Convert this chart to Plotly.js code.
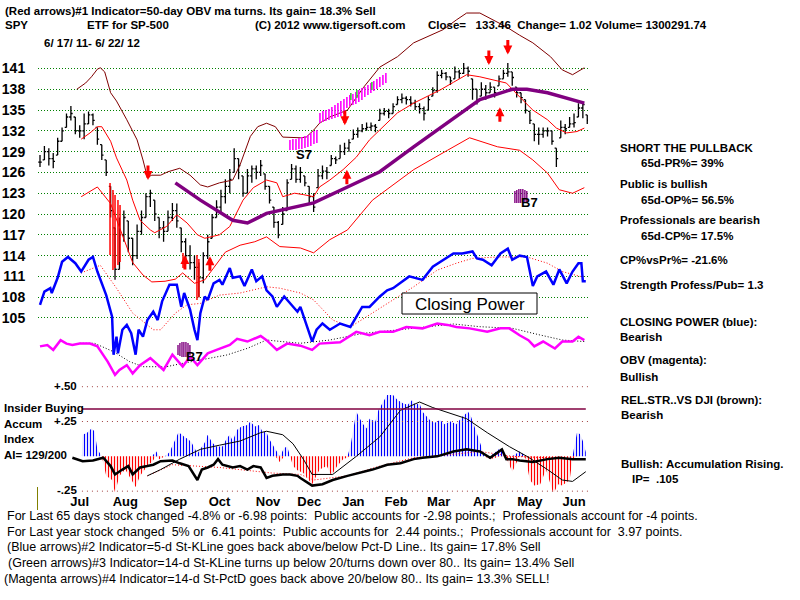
<!DOCTYPE html>
<html><head><meta charset="utf-8">
<script src="https://cdn.plot.ly/plotly-3.0.1.min.js"></script>
<style>html,body{margin:0;padding:0;background:#fff}#chart{width:800px;height:600px}</style>
</head><body><div id="chart"></div>
<script>
// ---------- DATA (x = calendar days since 2011-06-17) ----------
const months = ["Jul","Aug","Sep","Oct","Nov","Dec","Jan","Feb","Mar","Apr","May","Jun"];
const monthDays = [27,58,92,122,155,183,213,242,271,302,333,363];
const priceTicks = [105,108,111,114,117,120,123,126,129,132,135,138,141];

const closes = [127.5,129,128,127.6,130.5,132,134,134.5,132,132,
133,134.3,133.5,130.8,128.5,126,120.5,112,117,119.5,
116.5,114,117.5,119.5,122.5,123,120,118,117.5,119.5,
120.5,119,116,114,113,112.3,110.8,114,116,119.5,
121,122.5,124,125,128,127,123,125.5,126.5,126,
127,124,122,118.8,117,120,124.5,126.5,125,126,
124.5,122.5,121,125.5,126.2,126,128,127.8,129,129.5,
130.3,131.5,132,132.3,132.5,132.7,132.5,134.5,134.8,134.5,
135.5,136.5,136.7,136.5,136,135.5,135.2,134.5,136.5,137.8,
140,140.3,139.8,139.2,140.5,140.3,141,140.6,138,136.5,
138,137.5,138.3,137.5,139.5,140.3,140.5,139.7,137.5,136.8,
135,133.5,131.5,131.5,132,132,130.5,128,132.5,132.3,
133,133.2,135.3,135.8,133.5];
const highs = [128.5,129.8,129.5,128.8,131,132.5,134.5,135.6,134,132.8,
134.5,134.8,134.5,132.5,130,127.8,124,118,119.5,120.5,
119,116.5,118.5,120.5,123,123.5,122,119.5,119,120.5,
121.6,121.5,118,116.5,115.5,114,113,114.5,117,120,
122,123.5,125,126.5,129.5,128,125.5,126.5,127,127,
127.8,125.8,124,121,119,121,125,127.2,127,126.8,
125.5,124,123,126.5,127,126.8,128.5,128.3,130,130.3,
130.8,132.2,132.5,133,133.2,133.2,133,135.2,135.3,135.2,
136,137,137.4,137,137,136.5,136,135.5,137,138.3,
140.6,140.8,140.5,139.8,141.3,140.8,141.8,141.3,139.5,138,
139,138.6,139,138.3,140,140.8,141.8,140.5,138.3,137.5,
136.5,134.8,133,132.5,132.5,132.5,132,129.5,133.5,133,
134,134.5,136,136.2,134.3];
const lows = [126.8,127.8,127,126.6,128.5,130.5,132.5,133.5,131.5,131,
130.8,133,132.8,130,127.8,125.5,119.5,110.5,112,116,
114.5,112.6,113.5,117,119.5,121,119,116.5,116,117.5,
119,118,114.5,113,112,110.5,108,110,113.5,116.5,
119.5,120,121.5,123,126,125,122.5,123,124.5,125,
125.5,123.5,121.5,118,116.5,118.5,120.5,125,124.5,124.5,
124,121.5,120.3,123.8,125,125,127,127.2,128,128.5,
129,130.8,131,131.8,132,132,131.8,133.5,134.2,133.8,
134.5,135.8,136,135.8,135.5,135,134.5,133.5,135,137,
137.5,139.6,139.3,138.6,139.5,139.5,140.2,139.8,136.5,135.8,
137,136.5,137.5,136.8,138.5,139.5,139.8,138.5,136.8,136,
134.5,133,130.5,130,131,131.2,130,126.8,131,131.5,
132.5,132.5,134,133.8,133];

const cpDays = [0,3,7,8,12,15,19,24,28,33,36,39,45,49,50,52,53,56,59,62,65,67,70,73,77,80,83,88,93,96,98,102,105,107,109,112,114,118,122,124,129,131,136,139,144,147,151,154,158,161,166,170,175,177,180,185,188,192,197,204,211,215,219,224,231,236,240,251,260,267,274,281,287,294,297,301,307,313,318,321,326,331,335,338,344,349,353,358,362,366,368,369,371];
const cpVals = [106.9,108.8,109.3,108.6,110.8,113.1,113.8,112.9,111.7,113.4,113.8,111.7,108.3,105.2,99.7,102.3,99.9,103.3,104,102.8,99.7,103.3,102.3,104.7,105.9,104.7,107.4,109.8,109.8,106.6,108.6,106.2,103.3,101.8,105.7,108.1,107.6,110,110.5,109.8,112.2,110.8,111,109.6,112,110.3,111,109,108.1,106.6,108.1,107.1,105.9,106.6,104.7,101.6,103.3,104.2,103.3,104.2,103.7,105.2,106.6,106.6,108.1,109,109.3,111,110.5,112.4,113.4,114.3,114.3,114.6,113.6,113.4,112.6,114.3,115,113.4,114,113.8,109.6,111,111.7,109.8,112,110,111.7,112.9,112.9,110.3,110.3];

const obvDays = [0,5,9,14,18,22,27,34,39,46,51,54,59,63,68,75,84,90,97,102,107,114,120,129,134,141,150,154,161,168,177,185,190,204,215,224,231,240,249,260,270,277,283,292,304,313,319,326,332,336,342,350,355,362,366,370];
const obvVals = [100.9,101.1,100.4,101.8,101.3,101.1,101.3,101.3,100.9,98.7,96.8,97.5,98.2,97,98.2,99.2,97.5,99.7,98,99.4,98.2,99.9,100.4,101.1,102,101.6,102.4,101.8,100.4,101.3,101,100.4,101.3,101.5,103,102.5,103,103,103.7,103.5,104.2,104,103.7,103.5,103,103.5,103.5,102.5,101.8,100.9,101.6,100.6,101.6,101.6,102.3,101.8];

const cpMaDays = [28,41,52,63,77,82,92,100,109,122,136,154,163,177,186,199,211,222,236,254,270,283,294,311,331,345,355,367,371];
const cpMaVals = [111.5,112.6,109.3,105.7,103.3,103.3,105.7,106.9,107.1,108.3,108.6,109.5,109.3,108.6,107.6,104.7,103.7,105.2,107.1,109.5,111.9,112.9,113.6,113.8,113.8,112.9,111.7,111,111];

const obvMaDays = [27,37,50,61,70,86,97,109,127,141,154,165,177,197,220,243,265,281,299,321,340,355,371];
const obvMaVals = [101.35,101.35,100.13,98.69,97.97,97.97,98.46,98.94,99.66,100.62,101.82,101.58,101.35,101.82,102.79,103.27,103.74,104.13,103.74,103.51,102.54,101.82,101.58];

const rsDays = [25,31,35,39,41,44,48,52,59,66,70,73,76,82,87,95,102,109,114,122,131,136,143,148,154,160,165,177,181,186,190,197,209,220,231,243,254,263,274,283,290,299,308,317,326,335,347,355,362,370];
const rsVals = [138,138.9,139.8,140.9,141.1,140.5,137.5,136.3,133.6,130.7,127.8,125.3,125.6,125.6,126.1,126.6,125.6,124.2,123.9,124.5,124.9,127.1,131.2,132.6,133.1,132.6,131.1,131,131.1,132.1,133.1,134,135,138.3,141.2,142.7,144.7,145.6,146.6,148,149,149,148,147,145.8,144.7,142.7,140.8,140.1,141.1];

const maDays = [28,34,39,42,48,52,59,63,68,75,78,86,93,100,107,112,122,129,138,145,154,161,165,173,179,186,190,197,206,215,224,233,243,254,263,272,281,290,299,308,317,326,335,345,351,358,365,370];
const maVals = [130.8,131.7,132.6,132.6,130.5,128.1,124.9,122,119.1,117.7,117.3,118.2,119.9,118.7,117,116.5,117,118.2,122,123.8,124.9,124.5,122.5,123,122.8,122.5,123.9,124.9,126.4,128.2,130.7,132.6,134.6,136,136.9,137.9,139,140.1,139.8,139.3,138.9,136.9,135,133.6,132.4,131.7,131.9,132.4];

const lowBandDays = [28,39,48,54,63,70,76,85,92,97,105,112,119,126,136,146,154,163,177,186,197,209,226,254,277,292,311,326,335,345,353,362,370];
const lowBandVals = [122.5,123.9,121.5,118,113,111.2,110.2,110.3,110.6,111.5,110,110.5,112.5,114.5,115.5,116,116.7,115.3,115.1,114.4,116.3,117.7,122,126.4,129.2,131,129.7,129.2,127.8,125.9,123.5,123,123.8];

const ma50Days = [92,109,131,141,154,165,177,186,209,231,254,277,299,321,331,345,367,370];
const ma50Vals = [124.5,122,119.1,118.7,120.1,120.6,121.1,121.6,123.9,126.1,129.7,133.1,136.5,138,138,137.5,136.2,136];

const acDays = [28.5,29,32,35,37,39,42,45,49,51,54,58,62,65,68,73,76,79,81,85,88,92,94,96,98,101,103,107,109,112,114,117,120,124,127,129,131,134,137,141,143,146,149,151,154,156,160,163,166,168,170,172,175,179,183,185,190,195,198,202,206,209,211,213,215,219,222,224,228,230,233,236,240,243,247,250,253,255,258,260,265,268,272,275,279,283,287,291,293,297,300,302,306,313,317,321,326,330,333,336,340,344,349,352,355,360,362,365,367,369,371];
const acVals = [0,0.155,0.17,0.2,0.18,0.05,0,-0.14,-0.17,-0.26,-0.14,-0.095,-0.17,-0.22,-0.14,-0.07,-0.04,0.035,-0.02,0,0.03,0.12,0.17,0.16,0.14,0.12,0.1,0.02,0.05,0.1,0.155,0.1,0.07,0.07,0.13,0.155,0.11,0.19,0.215,0.225,0.25,0.215,0.225,0.18,0.17,0.12,0.05,-0.04,0.06,0.07,0,-0.07,-0.1,-0.12,-0.17,-0.2,-0.095,-0.07,-0.14,-0.07,-0.02,-0.01,0.07,0.21,0.32,0.24,0.2,0.27,0.25,0.33,0.39,0.44,0.44,0.405,0.38,0.37,0.405,0.37,0.38,0.32,0.26,0.24,0.26,0.23,0.25,0.23,0.285,0.32,0.285,0.17,0.07,0,-0.02,0.06,-0.01,-0.11,0.035,-0.01,-0.17,-0.21,-0.2,-0.095,-0.27,-0.2,-0.21,-0.17,-0.02,0.17,0.16,0.11,0.03];

const aiLineDays = [22,29,36,43,48,51,56,60,63,68,73,77,82,86,90,95,101,107,110,114,118,121,124,131,136,141,145,150,154,158,165,170,175,177,185,192,199,209,217,226,236,245,254,260,270,281,290,299,306,311,314,317,321,326,335,345,353,362,371];
const aiLineVals = [-0.01,-0.035,-0.03,-0.01,-0.07,-0.13,-0.095,-0.07,-0.13,-0.08,-0.07,-0.06,-0.035,-0.03,-0.03,-0.05,-0.07,-0.17,-0.095,-0.08,-0.06,-0.02,-0.06,-0.08,-0.07,-0.095,-0.07,-0.08,-0.155,-0.14,-0.13,-0.13,-0.14,-0.155,-0.21,-0.2,-0.17,-0.14,-0.12,-0.095,-0.06,-0.05,-0.02,-0.01,0,0.035,0.05,0.035,-0.01,0.025,0.05,-0.02,-0.02,-0.03,-0.04,-0.02,-0.01,-0.02,-0.02];

const aiMaDays = [73,82,95,109,122,136,150,154,165,172,179,185,199,215,231,245,258,267,290,304,319,331,345,355,362,371];
const aiMaVals = [-0.14,-0.095,-0.02,0.05,0.08,0.11,0.17,0.18,0.155,0.09,-0.02,-0.13,-0.13,0,0.14,0.33,0.39,0.35,0.27,0.17,0.07,0,-0.095,-0.17,-0.18,-0.11];

const aiRedDays = [73,90,122,158,177,186,209,231,254,277,299,321,345,371];
const aiRedVals = [-0.14,-0.06,-0.08,-0.12,-0.13,-0.17,-0.14,-0.07,-0.01,0.01,0.035,0,-0.01,-0.02];
const insiderLevel = 0.34;

// signals
const redDownDays = [73.4,207.2,305.1,318];
const redDownTips = [124.9,132.8,141.5,143];
const redUpDays = [98.5,115.5,208.6,312.6];
const redUpTips = [114.1,113.9,126.4,135.4];
const magDays = [169.9,171.9,174,176,178,180.1,182.1,184.1,186.2,188.2,190.3,192.3,194.3,196.4,198.4,200.5,202.5,204.5,206.6,208.6,210.6,212.7,214.7,216.7,218.8,220.8,222.9,224.9,226.9,229,231,233.1,235.1];
const magTop = [130.68,130.83,130.83,130.97,131.12,131.26,131.4,131.69,131.98,132.13,134.58,134.87,135.01,135.16,135.44,135.73,136.02,136.31,136.6,136.89,137.18,137.32,137.61,137.9,138.19,138.33,138.62,138.91,139.2,139.48,139.77,140.06,140.35];
const magBot = [129.24,129.24,129.24,129.38,129.38,129.53,129.67,129.82,130.11,130.25,133.14,133.28,133.42,133.57,133.71,133.86,134,134.15,134.43,135.3,135.59,135.73,135.88,136.17,136.45,136.89,137.18,137.46,137.75,138.04,138.33,138.62,138.91];
const greenDays = [211.3,215.4,225.6];
const greenTop = [137.46,137.9,139.05];
const greenBot = [136.45,136.74,137.9];
const purDays = [93.8,95.1,96.5,97.8,99.2,100.6,101.9,322.8,324.1,325.5,326.8,328.2,329.6,330.9];
const purTop = [101.1,101.39,101.53,101.53,101.53,101.39,101.1,123.32,123.47,123.61,123.61,123.61,123.47,123.32];
const purBot = [99.66,99.51,99.37,99.37,99.37,99.51,99.66,121.59,121.59,121.59,121.59,121.59,121.59,121.59];
const crashDays = [47.6,49.6,51,53,54.4,97.2,106.7,108];
const crashTop = [124.48,123.47,122.75,122.02,121.3,114.38,114.09,113.5];
const crashBot = [114.09,111.92,112.21,112.65,113.08,112.21,107.59,108];

// ---------- BUILD ----------
const barDays = closes.map((_, i) => i * 3);
const opens = closes.map((c, i) => Math.min(highs[i], Math.max(lows[i], i ? closes[i - 1] : c)));
function segs(days, tops, bots) {
  const x = [], y = [];
  days.forEach((d, i) => { x.push(d, d, null); y.push(tops[i], bots[i], null); });
  return {x, y};
}
function line(x, y, color, width, dash, yaxis) {
  return {type:'scatter', mode:'lines', x, y, xaxis:'x', yaxis: yaxis || 'y',
    line:{color, width, dash: dash || 'solid'}, hoverinfo:'skip', connectgaps:false};
}
const mag = segs(magDays, magTop, magBot), grn = segs(greenDays, greenTop, greenBot),
      pur = segs(purDays, purTop, purBot), crash = segs(crashDays, crashTop, crashBot);

const acPos = acVals.map(v => Math.max(v, 0));
const acNeg = acVals.map(v => Math.min(v, 0));

const traces = [
  line(rsDays, rsVals, '#800000', 1),
  line(lowBandDays, lowBandVals, '#ff0000', 1),
  line(maDays, maVals, '#ff0000', 1),
  line(cpMaDays, cpMaVals, '#ff0000', 1, '1px,2px'),
  line(obvMaDays, obvMaVals, '#000000', 1, '1px,2px'),
  line(crash.x, crash.y, '#ff0000', 1.5),
  line(ma50Days, ma50Vals, '#800080', 3.5),
  {type:'ohlc', x: barDays, open: opens, high: highs, low: lows, close: closes, xaxis:'x', yaxis:'y',
   increasing:{line:{color:'#000', width:1.3}}, decreasing:{line:{color:'#000', width:1.3}},
   tickwidth:0.4, hoverinfo:'skip'},
  line(cpDays, cpVals, '#0000ff', 2.5),
  line(obvDays, obvVals, '#ff00ff', 2.5),
  line(mag.x, mag.y, '#ff00ff', 1.6),
  line(grn.x, grn.y, '#40c040', 1.6),
  line(pur.x, pur.y, '#800080', 1.4),
  // accumulation panel
  {type:'scatter', mode:'lines', x: acDays, y: acPos, xaxis:'x', yaxis:'y2', line:{width:0, color:'#0000ff'},
   fill:'tozeroy', fillcolor:'rgba(0,0,0,0)', fillpattern:{shape:'|', fgcolor:'#0000ff', bgcolor:'rgba(255,255,255,0)', size:3, solidity:0.4}, hoverinfo:'skip'},
  {type:'scatter', mode:'lines', x: acDays, y: acNeg, xaxis:'x', yaxis:'y2', line:{width:0, color:'#ff0000'},
   fill:'tozeroy', fillcolor:'rgba(0,0,0,0)', fillpattern:{shape:'|', fgcolor:'#ff0000', bgcolor:'rgba(255,255,255,0)', size:3, solidity:0.4}, hoverinfo:'skip'},
  line(aiRedDays, aiRedVals, '#ff0000', 1, '1px,2px', 'y2'),
  line(aiMaDays, aiMaVals, '#000000', 1, 'solid', 'y2'),
  line(aiLineDays, aiLineVals, '#000000', 2.5, 'solid', 'y2')
];

const W = 800, H = 600;
const px = x => x / W, py = y => 1 - y / H;
const FAM = '"Liberation Sans", Arial, sans-serif';
function label(x, y, text, size, opts) {
  opts = opts || {};
  return {xref:'paper', yref:'paper', x: px(x), y: py(y), xanchor: opts.anchor || 'left', yanchor:'middle',
    showarrow:false, text, font:{family: opts.family || FAM, size, color: opts.color || '#000', weight: opts.weight || 'bold'}};
}
const NB = '\u00a0';
const annotations = [
  label(3, 11, '(Red arrows)#1 Indicator=50-day OBV ma turns. Its gain= 18.3% Sell', 11.5),
  label(3, 25, 'SPY', 11.5),
  label(85, 25, 'ETF for SP-500', 11.5),
  label(253, 25, '(C) 2012 www.tigersoft.com', 11.5),
  label(426, 25, 'Close=' + NB + NB + ' 133.46' + NB + NB + 'Change= 1.02 Volume= 1300291.74', 11.5),
  label(42, 43, '6/ 17/ 11- 6/ 22/ 12', 11.5),
  label(618, 148, 'SHORT THE PULLBACK', 11.5),
  label(639, 163, '65d-PR%= 39%', 11.5),
  label(618, 184, 'Public is bullish', 11.5),
  label(639, 200, '65d-OP%= 56.5%', 11.5),
  label(618, 220, 'Professionals are bearish', 11.5),
  label(639, 236, '65d-CP%= 17.5%', 11.5),
  label(618, 260, 'CP%vsPr%= -21.6%', 11.5),
  label(618, 285, 'Strength Profess/Pub= 1.3', 11.5),
  label(618, 322, 'CLOSING POWER (blue):', 11.5),
  label(618, 337, 'Bearish', 11.5),
  label(618, 360, 'OBV (magenta):', 11.5),
  label(618, 377, 'Bullish', 11.5),
  label(619, 400, 'REL.STR..VS DJI (brown):', 11.5),
  label(619, 415, 'Bearish', 11.5),
  label(619, 464, 'Bullish: Accumulation Rising.', 11.5),
  label(630, 479, 'IP=' + NB + NB + '.105', 11.5),
  label(2, 408, 'Insider Buying', 11.5),
  label(2, 424, 'Accum', 11.5),
  label(2, 439, 'Index', 11.5),
  label(2, 455, 'AI= 129/200', 11.5),
  label(79, 386, '+.50', 11.5, {anchor:'right'}),
  label(79, 421, '+.25', 11.5, {anchor:'right'}),
  label(79, 490, '-.25', 11.5, {anchor:'right'}),
  label(469.5, 304, 'Closing Power', 17, {anchor:'center', weight:'normal'}),
  label(5, 516, 'For Last 65 days stock changed -4.8% or -6.98 points:' + NB + ' Public accounts for -2.98 points.;' + NB + ' Professionals account for -4 points.', 12.5, {weight:'normal'}),
  label(5, 532, 'For Last year stock changed' + NB + ' 5% or' + NB + ' 6.41 points:' + NB + ' Public accounts for' + NB + ' 2.44 points.;' + NB + ' Professionals account for' + NB + ' 3.97 points.', 12.5, {weight:'normal'}),
  label(5, 547, '(Blue arrows)#2 Indicator=5-d St-KLine goes back above/below Pct-D Line.. Its gain= 17.8% Sell', 12.5, {weight:'normal'}),
  label(6, 563, '(Green arrows)#3 Indicator=14-d St-KLine turns up below 20/turns down over 80.. Its gain= 13.4% Sell', 12.5, {weight:'normal'}),
  label(2, 579, '(Magenta arrows)#4 Indicator=14-d St-PctD goes back above 20/below 80.. Its gain= 13.3% SELL!', 12.5, {weight:'normal'})
];
[['S7', 179.4, 128.66], ['B7', 105.3, 99.51], ['B7', 333, 121.59]].forEach(s => {
  annotations.push({xref:'x', yref:'y', x:s[1], y:s[2], text:s[0], showarrow:false, xanchor:'center', yanchor:'middle',
    font:{family:FAM, size:13, weight:'bold', color:'#000'}});
});
redDownDays.forEach((d, i) => annotations.push({xref:'x', yref:'y', x:d, y:redDownTips[i], text:'', showarrow:true,
  ax:0, ay:-16, arrowhead:2, arrowsize:0.6, arrowwidth:3, arrowcolor:'#ff0000'}));
redUpDays.forEach((d, i) => annotations.push({xref:'x', yref:'y', x:d, y:redUpTips[i], text:'', showarrow:true,
  ax:0, ay:16, arrowhead:2, arrowsize:0.6, arrowwidth:3, arrowcolor:'#ff0000'}));

const dotRed = {color:'#a04040', width:1, dash:'1px,4px'};
const shapes = [
  {type:'line', xref:'x', yref:'y2', x0:acDays[0], x1:372.5, y0:0.5, y1:0.5, line:dotRed},
  {type:'line', xref:'x', yref:'y2', x0:acDays[0], x1:372.5, y0:0.25, y1:0.25, line:dotRed},
  {type:'line', xref:'x', yref:'y2', x0:acDays[0], x1:372.5, y0:-0.25, y1:-0.25, line:dotRed},
  {type:'line', xref:'x', yref:'y2', x0:acDays[0], x1:371, y0:insiderLevel, y1:insiderLevel, line:{color:'#800040', width:1.5}},
  {type:'rect', xref:'paper', yref:'paper', x0:px(402), x1:px(537), y0:py(314), y1:py(293), line:{color:'#000', width:1}, fillcolor:'#fff', layer:'above'},
  {type:'line', xref:'paper', yref:'paper', x0:px(37.5), x1:px(37.5), y0:py(487), y1:py(510), line:{color:'#808000', width:1}}
];

const layout = {
  width: W, height: H, margin:{l:0, r:0, t:0, b:0}, paper_bgcolor:'#fff', plot_bgcolor:'#fff',
  showlegend:false, hovermode:false,
  xaxis:{domain:[0.0475, 0.735], range:[-1.36, 372.5], anchor:'y2', showgrid:false, zeroline:false, showline:false,
    tickmode:'array', tickvals: monthDays, ticktext: months, ticks:'', tickfont:{family:FAM, size:13, weight:'bold', color:'#000'},
    rangeslider:{visible:false}, fixedrange:true},
  yaxis:{domain:[0.36667, 1], range:[96.05, 150.88], anchor:'x', tickmode:'array', tickvals: priceTicks,
    ticktext: priceTicks.map(String), showgrid:true, gridcolor:'#008000', griddash:'1px,2px', gridwidth:1,
    zeroline:false, showline:false, ticks:'outside', ticklen:9, tickcolor:'rgba(0,0,0,0)',
    tickfont:{family:FAM, size:14, weight:'bold', color:'#000'}, fixedrange:true},
  yaxis2:{domain:[0.18, 0.36667], range:[-0.256, 0.548], anchor:'x', showgrid:false, zeroline:false,
    showline:false, showticklabels:false, ticks:'', fixedrange:true},
  annotations, shapes
};
Plotly.newPlot('chart', traces, layout, {staticPlot:true, displayModeBar:false});
</script></body></html>
